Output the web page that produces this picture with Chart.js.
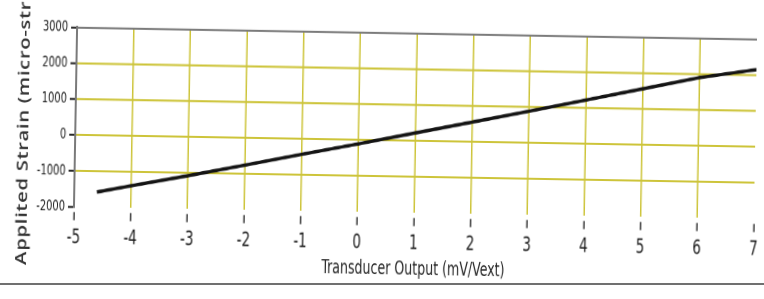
<!DOCTYPE html>
<html>
<head>
<meta charset="utf-8">
<script src="https://cdn.jsdelivr.net/npm/chart.js@4"></script>
<style>
body { margin: 0; background: #fff; }
#wrap { position: relative; width: 764px; height: 299px; overflow: hidden; background: #fff; }
/* the photo is a bit tilted and stretched tall, so the canvas is too */
#strainChart { position: absolute; left: 0; top: 38.85px; transform-origin: 382px 111px; transform: rotate(1deg) scaleY(1.35); }
#rule { position: absolute; left: 0; top: 283px; width: 764px; height: 2px; background: #707070; }
</style>
</head>
<body>
<div id="wrap">
    <canvas id="strainChart" width="764" height="222"></canvas>
    <div id="rule"></div>
</div>
<script>
// Strain vs transducer output
const outputs = [-4.6, -4, -3, -2, -1, 0, 1, 2, 3, 4, 5, 6, 7];
const strains = [-1580, -1390, -1080, -760, -430, -110, 220, 550, 880, 1220, 1560, 1900, 2150];
const xTicks = [-5, -4, -3, -2, -1, 0, 1, 2, 3, 4, 5, 6, 7];
const yTicks = [-2000, -1000, 0, 1000, 2000, 3000];
const xTitle = 'Transducer Output (mV/Vext)';
const yTitle = 'Applited Strain (micro-str';

const condensed = '"DejaVu Sans Condensed", "DejaVu Sans", sans-serif';
const gridYellow = '#cdc43a';
const frameGrey = '#7a7a7a';

// titles drawn by hand, the y one is cut off at the top like the original
const axisTitles = {
    id: 'axisTitles',
    afterDraw(chart) {
        const { ctx, chartArea } = chart;
        ctx.save();
        ctx.fillStyle = '#262626';
        ctx.font = '14px ' + condensed;
        ctx.textAlign = 'center';
        ctx.textBaseline = 'middle';
        ctx.fillText(xTitle, (chartArea.left + chartArea.right) / 2, 199.5);

        ctx.translate(28, 200.7);
        ctx.rotate(-Math.PI / 2);
        ctx.font = '600 15px "Open Sans", sans-serif';
        ctx.letterSpacing = '0.5px';
        ctx.fillStyle = '#333';
        ctx.textAlign = 'left';
        ctx.textBaseline = 'alphabetic';
        ctx.fillText(yTitle, 0, 0);
        ctx.restore();
    }
};

const ctx = document.getElementById('strainChart').getContext('2d');
const strainChart = new Chart(ctx, {
    type: 'scatter',
    data: {
        datasets: [{
            data: outputs.map((x, i) => ({ x: x, y: strains[i] })),
            showLine: true,
            borderColor: '#141414',
            borderWidth: 2.6,
            pointRadius: 0,
            tension: 0
        }]
    },
    options: {
        responsive: false,
        animation: false,
        devicePixelRatio: 2,
        layout: { padding: { top: 24, right: 9, left: 0, bottom: 0 } },
        plugins: { legend: { display: false }, tooltip: { enabled: false } },
        scales: {
            x: {
                type: 'linear',
                min: -5,
                max: 7,
                afterBuildTicks: scale => { scale.ticks = xTicks.map(v => ({ value: v })); },
                afterFit: scale => { scale.height = 65; },
                border: { display: false },
                grid: {
                    color: c => (c.tick && (c.tick.value === -5 || c.tick.value === 7)) ? 'rgba(0,0,0,0)' : gridYellow,
                    lineWidth: 1.5,
                    tickLength: 10,
                    tickColor: '#3a3a3a',
                    tickWidth: 1.5,
                    tickBorderDash: [0, 4, 6, 100]
                },
                ticks: {
                    color: '#1e1e1e',
                    font: { family: condensed, size: 15 },
                    padding: 4,
                    maxRotation: 0,
                    autoSkip: false,
                    callback: v => String(v)
                }
            },
            y: {
                min: -2000,
                max: 3000,
                afterBuildTicks: scale => { scale.ticks = yTicks.map(v => ({ value: v })); },
                afterFit: scale => { scale.width = 75; },
                border: { display: true, color: frameGrey, width: 2 },
                grid: {
                    color: c => {
                        if (!c.tick) return gridYellow;
                        if (c.tick.value === 3000) return frameGrey;
                        if (c.tick.value === -2000) return 'rgba(0,0,0,0)';
                        return gridYellow;
                    },
                    lineWidth: 1.5,
                    tickLength: 6,
                    tickColor: '#2a2a2a',
                    tickWidth: 1.5
                },
                ticks: {
                    color: '#1e1e1e',
                    font: { family: condensed, size: 11 },
                    padding: 3,
                    callback: v => String(v)
                }
            }
        }
    },
    plugins: [axisTitles]
});
</script>
</body>
</html>
